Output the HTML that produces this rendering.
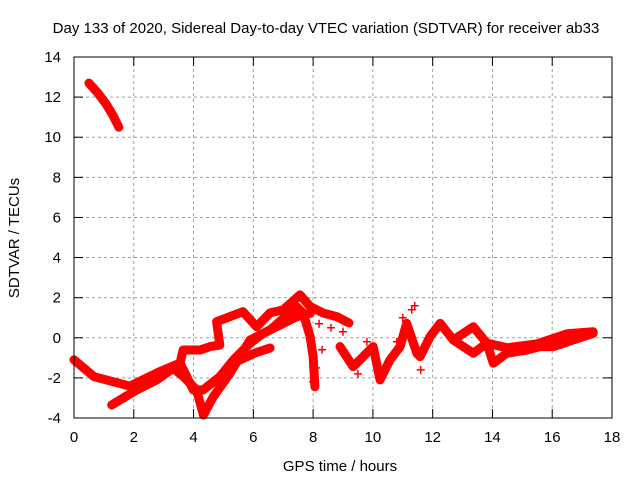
<!DOCTYPE html>
<html><head><meta charset="utf-8"><style>
body{margin:0;background:#fff}
svg text{font-family:"Liberation Sans",sans-serif;font-size:15px;fill:#000}
</style></head><body>
<svg id="chart" width="640" height="480" viewBox="0 0 640 480" xmlns="http://www.w3.org/2000/svg">
<rect width="640" height="480" fill="#fff"/>
<text x="326" y="33" text-anchor="middle">Day 133 of 2020, Sidereal Day-to-day VTEC variation (SDTVAR) for receiver ab33</text>
<text x="340" y="471" text-anchor="middle">GPS time / hours</text>
<text transform="translate(19,238) rotate(-90)" text-anchor="middle">SDTVAR / TECUs</text>
<g id="grid"></g>
<g id="series"></g>
<rect x="74" y="57" width="538" height="361" fill="none" stroke="#000" stroke-width="1"/>
<g id="ticks"></g>
</svg>
<script>
const xTicks=[0,2,4,6,8,10,12,14,16,18];
const yTicks=[-4,-2,0,2,4,6,8,10,12,14];
const trackAH=[0.5,0.8,1.1,1.3,1.5];
const trackAV=[12.7,12.2,11.6,11.1,10.5];
const track1H=[0,0.67,1.87,2.88,3.55,3.65,4.22,4.55,4.88,4.77,5.65,6.11,6.56,7.0,7.56,7.9,8.33,8.8,9.2];
const track1V=[-1.1,-1.94,-2.41,-1.68,-1.26,-0.61,-0.61,-0.44,-0.36,0.8,1.3,0.55,1.24,1.39,2.14,1.56,1.24,1.05,0.74];
const track2H=[1.26,2.1,2.77,3.32,3.66,4.1,4.33,4.66,5.22,5.89,6.56,7.45,7.67,7.9,8.0,8.06];
const track2V=[-3.35,-2.6,-2.1,-1.52,-1.93,-2.6,-3.85,-2.94,-1.77,-0.11,0.39,1.55,1.22,0.05,-0.94,-2.44];
const track3H=[3.55,3.99,4.32,4.88,5.33,5.89,6.33,6.78,7.45,7.9];
const track3V=[-1.26,-2.6,-2.6,-1.94,-1.11,-0.27,0.22,0.55,1.05,1.22];
const track4H=[5.55,6.06,6.56];
const track4V=[-1.1,-0.76,-0.51];
const track5H=[8.9,9.34,10.01,10.24,10.57,10.91,11.13,11.47,11.58,11.91,12.25,12.69,13.36,13.81,14.03,14.48,15.15,15.59,16.04,16.7,17.37];
const track5V=[-0.44,-1.44,-0.44,-2.1,-1.11,-0.44,0.72,-0.77,-0.94,0.05,0.72,-0.11,-0.77,-0.27,-1.27,-0.77,-0.61,-0.44,-0.44,-0.11,0.22];
const track6H=[12.69,13.36,13.81,14.5,15.5,16.5,17.37];
const track6V=[-0.11,0.55,-0.27,-0.5,-0.3,0.2,0.3];
const scatterH=[8.0,8.1,8.3,8.6,9.0,9.5,10.3,10.8,11.0,11.3,11.4,11.6,8.2,9.8];
const scatterV=[-2.2,-1.5,-0.6,0.5,0.3,-1.8,-1.9,-0.2,1.0,1.4,1.6,-1.6,0.7,-0.2];

const X=h=>74+h*538/18;
const Y=v=>418-(v+4)*361/18;
const NS='http://www.w3.org/2000/svg';
const grid=document.getElementById('grid'),ticks=document.getElementById('ticks'),ser=document.getElementById('series');
function mk(tag,attrs,parent){const e=document.createElementNS(NS,tag);for(const k in attrs)e.setAttribute(k,attrs[k]);parent.appendChild(e);return e;}
xTicks.forEach(t=>{
  const x=X(t);
  if(t>0&&t<18){const g=mk('line',{x1:x,y1:57,x2:x,y2:418,stroke:'#a0a0a0','stroke-dasharray':'3,3'},grid);
  
  }
  mk('line',{x1:x,y1:418,x2:x,y2:409,stroke:'#000'},ticks);
  mk('line',{x1:x,y1:57,x2:x,y2:66,stroke:'#000'},ticks);
  const l=mk('text',{x:x,y:442,'text-anchor':'middle'},ticks);l.textContent=t;
  
  
});
yTicks.forEach(t=>{
  const y=Y(t);
  if(t>-4&&t<14){const g=mk('line',{x1:74,y1:y,x2:612,y2:y,stroke:'#a0a0a0','stroke-dasharray':'3,3'},grid);
  
  }
  mk('line',{x1:74,y1:y,x2:83,y2:y,stroke:'#000'},ticks);
  mk('line',{x1:612,y1:y,x2:603,y2:y,stroke:'#000'},ticks);
  const l=mk('text',{x:61,y:y+5,'text-anchor':'end'},ticks);l.textContent=t;
  
  
});
const tracks=[[trackAH,trackAV],[track1H,track1V],[track2H,track2V],[track3H,track3V],[track4H,track4V],[track5H,track5V],[track6H,track6V]];
tracks.forEach(([H,V],i)=>{
  const pts=H.map((h,j)=>X(h)+','+Y(V[j])).join(' ');
  const p=mk('polyline',{points:pts,fill:'none',stroke:'#ff0000','stroke-width':9,'stroke-linejoin':'round','stroke-linecap':'round'},ser);
  
  
});
scatterH.forEach((h,j)=>{
  const x=X(h),y=Y(scatterV[j]);
  const p=mk('path',{d:`M${x-4},${y}H${x+4}M${x},${y-4}V${y+4}`,stroke:'#ff0000','stroke-width':1.5},ser);
  
  
});
</script>
</body></html>
